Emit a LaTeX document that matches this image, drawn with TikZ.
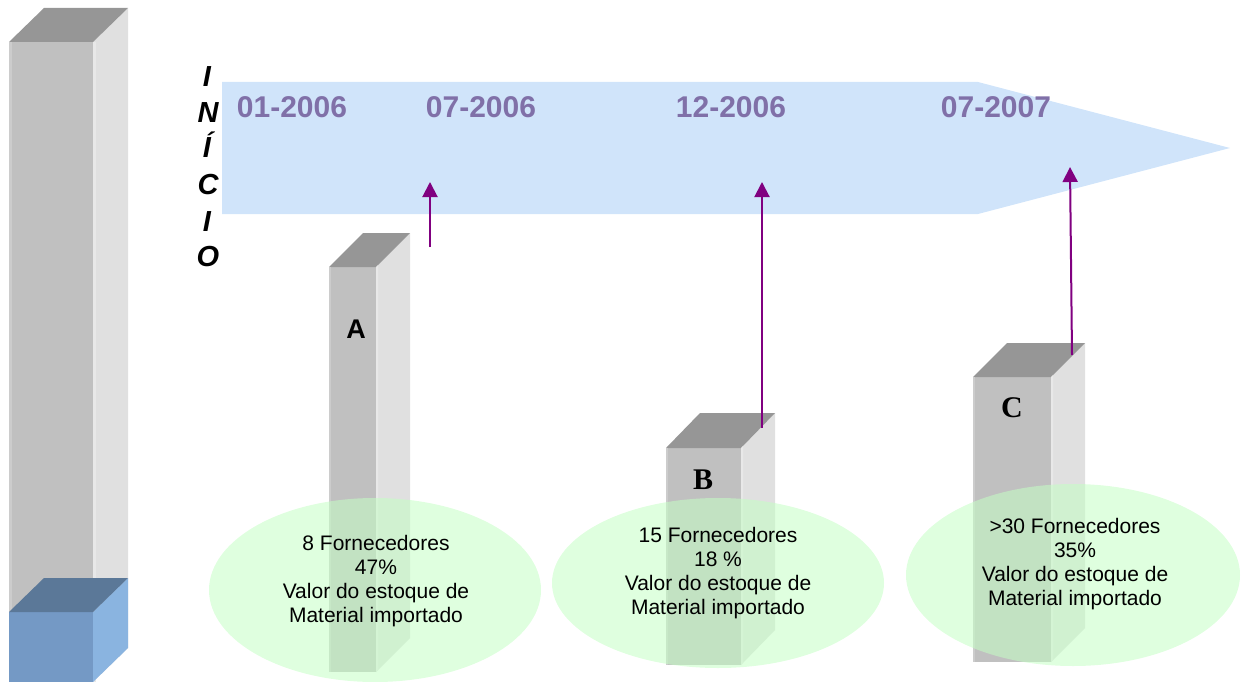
\documentclass[tikz,border=0pt]{standalone}
\usepackage{fontspec}
\setmainfont{Liberation Sans}
\newfontfamily\serifB{Liberation Serif}
\usetikzlibrary{arrows.meta}
\definecolor{barfront}{RGB}{192,192,192}
\definecolor{baredge}{RGB}{204,204,204}
\definecolor{barside}{RGB}{224,224,224}
\definecolor{barsideedge}{RGB}{232,232,232}
\definecolor{bartop}{RGB}{150,150,150}
\definecolor{bluefront}{RGB}{116,153,197}
\definecolor{bluetop}{RGB}{91,120,152}
\definecolor{blueside}{RGB}{138,180,224}
\definecolor{timeline}{RGB}{208,228,250}
\definecolor{datecol}{RGB}{128,112,168}
\definecolor{arrowcol}{RGB}{128,0,128}
\definecolor{ellfill}{RGB}{196,255,196}
% prism: x1 x2 x3 ytop yfront ybottom front side top
\newcommand\myprism[9]{%
  \fill[#7] (#1,#5) rectangle (#2,#6);
  \fill[#8] (#2,#5) -- (#3,#4) -- (#3,{#6-(#5-#4)}) -- (#2,#6) -- cycle;
  \fill[#9] (#1,#5) -- (#2,#5) -- (#3,#4) -- ({#1+#3-#2},#4) -- cycle;
}
\tikzset{
  datelbl/.style={font=\fontsize{30}{32}\selectfont\bfseries, text=datecol, inner sep=0pt},
  vletter/.style={font=\fontsize{29}{30}\selectfont\bfseries\itshape, anchor=base, inner sep=0pt},
  ellbox/.style={font=\fontsize{21}{24}\selectfont, align=center, inner sep=0pt},
  purplearrow/.style={draw=arrowcol, line width=2pt, -{Triangle[width=15pt,length=15pt]}},
  ellshape/.style={fill=ellfill, fill opacity=0.55}
}
\begin{document}
\begin{tikzpicture}[x=1pt,y=-1pt]
\useasboundingbox (0,0) rectangle (1249,682);
% left tall bar
\myprism{9}{93}{128}{8}{42}{682}{barfront}{barside}{bartop}
\fill[baredge] (9,42) rectangle (12,682);
\fill[barsideedge] (93,42) rectangle (96,682);
% blue box
\myprism{9}{93}{128}{578}{612}{682}{bluefront}{blueside}{bluetop}
% timeline arrow
\fill[timeline] (222,82) -- (978,82) -- (1230,148) -- (978,214) -- (222,214) -- cycle;
% bars A, B, C
\myprism{329}{376}{410}{233}{267}{672}{barfront}{barside}{bartop}
\fill[baredge] (329,267) rectangle (331,672);
\fill[barsideedge] (376,267) -- (378,265) -- (378,670) -- (376,672) -- cycle;
\myprism{666}{741}{775}{413}{448}{665}{barfront}{barside}{bartop}
\fill[baredge] (666,448) rectangle (668,665);
\fill[barsideedge] (741,448) -- (743,446) -- (743,663) -- (741,665) -- cycle;
\myprism{973}{1051}{1085}{343}{377}{662}{barfront}{barside}{bartop}
\fill[baredge] (973,377) rectangle (975,662);
\fill[barsideedge] (1051,377) -- (1053,375) -- (1053,660) -- (1051,662) -- cycle;
% dates
\node[datelbl] (d1) at (292,107) {01-2006};
\node[datelbl] (d2) at (481,107) {07-2006};
\node[datelbl] (d3) at (731,107) {12-2006};
\node[datelbl] (d4) at (996,107) {07-2007};
% INICIO
\node[vletter] (v1) at (207,87) {I};
\node[vletter] (v2) at (208,122) {N};
\node[vletter] (v3) at (207,157) {Í};
\node[vletter] (v4) at (208,194) {C};
\node[vletter] (v5) at (207,231) {I};
\node[vletter] (v6) at (208,266) {O};
% bar letters
\node[font=\fontsize{27}{29}\selectfont\bfseries, inner sep=0pt] (la) at (356,329) {A};
\node[font=\fontsize{30}{32}\selectfont\serifB\bfseries, inner sep=0pt] (lb) at (703,480) {B};
\node[font=\fontsize{30}{32}\selectfont\serifB\bfseries, inner sep=0pt] (lc) at (1012,408) {C};
% purple arrows
\coordinate (pa0) at (430,247);
\coordinate (pa1) at (430,182);
\coordinate (pb0) at (762,428);
\coordinate (pb1) at (762,182);
\coordinate (pc0) at (1072,355);
\coordinate (pc1) at (1070,167);
\draw[purplearrow] (pa0) -- (pa1);
\draw[purplearrow] (pb0) -- (pb1);
\draw[purplearrow] (pc0) -- (pc1);
% ellipses
\fill[ellshape] (375,590) ellipse [x radius=166, y radius=92];
\fill[ellshape] (718,583) ellipse [x radius=166, y radius=85];
\fill[ellshape] (1073,575) ellipse [x radius=167, y radius=91];
\node[ellbox] (e1) at (376,581) {8 Fornecedores\\47\%\\Valor do estoque de\\Material importado};
\node[ellbox] (e2) at (718,573) {15 Fornecedores\\18 \%\\Valor do estoque de\\Material importado};
\node[ellbox] (e3) at (1075,564) {>30 Fornecedores\\35\%\\Valor do estoque de\\Material importado};
\end{tikzpicture}
\end{document}
